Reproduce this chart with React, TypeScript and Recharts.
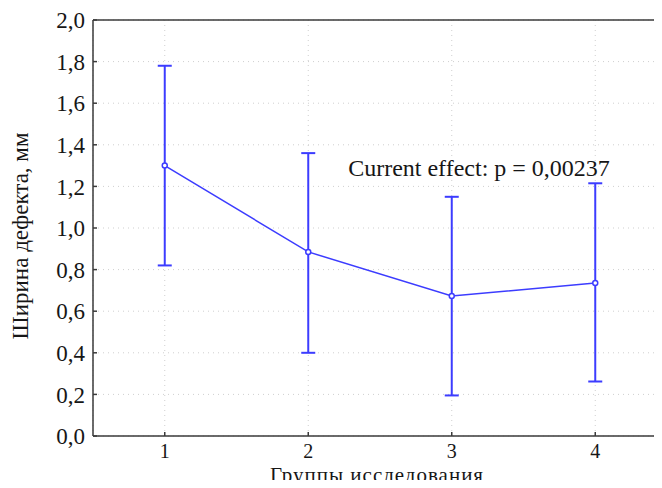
import React from 'react';
import {
  LineChart,
  Line,
  XAxis,
  YAxis,
  CartesianGrid,
  ErrorBar,
  ReferenceLine,
  ReferenceDot,
} from 'recharts';

const GROUPS = [1, 2, 3, 4];
const MEANS = [1.3, 0.885, 0.673, 0.735];
const LOWER = [0.82, 0.4, 0.195, 0.262];
const UPPER = [1.78, 1.36, 1.15, 1.215];
const Y_TICKS = [0, 0.2, 0.4, 0.6, 0.8, 1.0, 1.2, 1.4, 1.6, 1.8, 2.0];

const data = GROUPS.map((g, i) => ({
  group: g,
  mean: MEANS[i],
  err: [MEANS[i] - LOWER[i], UPPER[i] - MEANS[i]],
}));

const BLUE = '#3c3cff';
const AXIS = '#3a3a3a';
const FONT = 'Liberation Serif';
const INK = '#161616';

const fmt = (v: number) => v.toFixed(1).replace('.', ',');

// tick label plus a short inward mark on the axis
const YTick = (props: any) => {
  const { x, y, payload } = props;
  return (
    <g>
      <line x1={x + 8} x2={x + 12} y1={y} y2={y} stroke={AXIS} strokeWidth={1.5} />
      <text x={x} y={y} dy="0.355em" textAnchor="end" fontSize={23} fill={INK}>
        {fmt(payload.value)}
      </text>
    </g>
  );
};

const XTick = (props: any) => {
  const { x, y, payload } = props;
  return (
    <g>
      <line x1={x} x2={x} y1={y - 8} y2={y - 12} stroke={AXIS} strokeWidth={1.5} />
      <text x={x} y={y - 2} dy="0.78em" textAnchor="middle" fontSize={20} fill={INK}>
        {payload.value}
      </text>
    </g>
  );
};

const App: React.FC = () => {
  return (
    <div style={{ margin: -8, width: 662, height: 488, overflow: 'hidden', background: '#fff', fontFamily: FONT }}>
      <style>{`.serif-chart text { font-family: 'Liberation Serif', serif !important; }`}</style>
      <LineChart
        className="serif-chart"
        width={680}
        height={488}
        data={data}
        margin={{ top: 20, right: 13, left: 0, bottom: 0 }}
      >
        <CartesianGrid stroke="#cfcfcf" strokeDasharray="1 4" />
        <XAxis
          dataKey="group"
          type="number"
          domain={[0.5, 4.5]}
          ticks={GROUPS}
          height={52}
          tickLine={false}
          axisLine={{ stroke: AXIS, strokeWidth: 1.5 }}
          tick={<XTick />}
          label={{ value: 'Группы исследования', position: 'insideBottom', offset: 6, dx: -3, fill: INK, fontSize: 21, letterSpacing: 1 }}
        />
        <YAxis
          type="number"
          domain={[0, 2]}
          ticks={Y_TICKS}
          width={93}
          tickLine={false}
          axisLine={{ stroke: AXIS, strokeWidth: 1.5 }}
          tick={<YTick />}
          label={{ value: 'Ширина дефекта, мм', angle: -90, position: 'insideLeft', offset: 20, dy: 8, fill: INK, fontSize: 23, style: { textAnchor: 'middle' } }}
        />
        <ReferenceLine y={2} stroke={AXIS} strokeWidth={1.5} />
        <ReferenceDot
          x={3.19}
          y={1.29}
          r={0}
          fill="none"
          stroke="none"
          label={{ value: 'Current effect: p = 0,00237', position: 'center', fill: INK, fontSize: 24 }}
        />
        <Line
          type="linear"
          dataKey="mean"
          stroke={BLUE}
          strokeWidth={1.5}
          dot={{ r: 2.5, fill: '#fff', stroke: BLUE, strokeWidth: 1.5 }}
          isAnimationActive={false}
        >
          <ErrorBar dataKey="err" direction="y" width={7} stroke={BLUE} strokeWidth={2} />
        </Line>
      </LineChart>
    </div>
  );
};

export default App;
